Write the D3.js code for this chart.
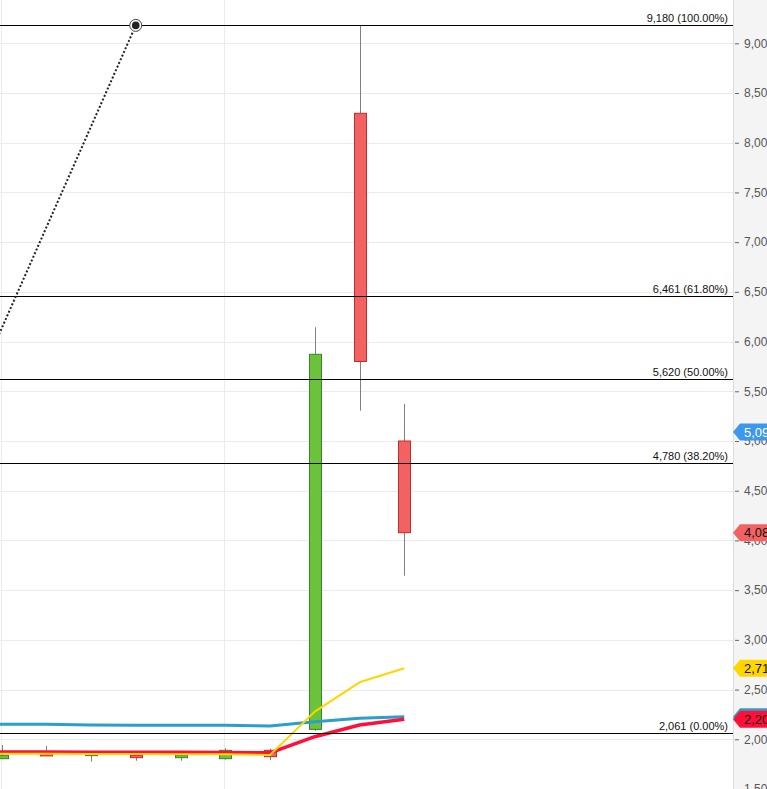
<!DOCTYPE html>
<html>
<head>
<meta charset="utf-8">
<script src="https://cdn.jsdelivr.net/npm/d3@7"></script>
<style>
  body { margin: 0; background: #fff; overflow: hidden; }
  svg { display: block; font-family: "Liberation Sans", Arial, sans-serif; }
</style>
</head>
<body>
<svg id="chart" width="767" height="789"></svg>
<script>
// candle data (index 0 = first candle on screen)
var candleIdx = [0, 1, 2, 3, 4, 5, 6, 7, 8, 9];
var opens  = [1.805, 1.853, 1.852, 1.839, 1.815, 1.805, 1.889, 2.100, 8.296, 5.000];
var highs  = [1.943, 1.933, 1.856, 1.839, 1.839, 1.910, 1.905, 6.144, 9.180, 5.372];
var lows   = [1.805, 1.850, 1.775, 1.784, 1.784, 1.795, 1.790, 2.084, 5.305, 3.645];
var closes = [1.839, 1.850, 1.856, 1.815, 1.839, 1.889, 1.825, 5.872, 5.800, 4.078];

// moving averages (start one bar left of the screen)
var maIdx    = [-1, 0, 1, 2, 3, 4, 5, 6, 7, 8, 9];
var maBlue   = [2.151, 2.151, 2.151, 2.144, 2.140, 2.140, 2.140, 2.134, 2.177, 2.211, 2.227];
var maRed    = [1.872, 1.872, 1.872, 1.870, 1.869, 1.869, 1.868, 1.864, 2.026, 2.144, 2.202];
var maYellow = [1.855, 1.855, 1.855, 1.853, 1.852, 1.850, 1.850, 1.842, 2.278, 2.573, 2.714];

// fibonacci retracement
var fibValues = [9.180, 6.461, 5.620, 4.780, 2.061];
var fibPcts   = ["100.00%", "61.80%", "50.00%", "38.20%", "0.00%"];
var fibTrendIdx = [-4, 3];
var fibTrendVal = [2.061, 9.180];

// extra price marker
var bidValue = 5.09;

var yTicks = d3.range(1.5, 9.01, 0.5);
var vGridIdx = [0, 5];

var W = 767, H = 789, axisX = 733;

var svg = d3.select("#chart");

var x = d3.scaleLinear().domain([0, 9]).range([1.5, 1.5 + 9 * 44.75]);
var y = d3.scaleLinear().domain([1.5, 9]).range([789, 43.3]);

var fmt3 = v => d3.format(".3f")(v).replace(".", ",");
var fmt2 = v => d3.format(".2f")(v).replace(".", ",");

svg.append("defs").append("clipPath").attr("id", "plotclip")
    .append("rect").attr("x", 0).attr("y", 0).attr("width", axisX).attr("height", H);

var plot = svg.append("g").attr("clip-path", "url(#plotclip)");

//网格
plot.append("g").selectAll("line")
    .data(yTicks)
    .join("line")
    .attr("x1", 0).attr("x2", axisX)
    .attr("y1", d => Math.round(y(d)) + 0.5)
    .attr("y2", d => Math.round(y(d)) + 0.5)
    .attr("stroke", "#ebebeb");

plot.append("g").selectAll("line")
    .data(vGridIdx)
    .join("line")
    .attr("x1", d => Math.round(x(d)) - 0.5)
    .attr("x2", d => Math.round(x(d)) - 0.5)
    .attr("y1", 0).attr("y2", H)
    .attr("stroke", "#ebebeb");

//蜡烛
var candles = candleIdx.map((d, i) => ({
    i: d, o: opens[i], h: highs[i], l: lows[i], c: closes[i]
}));

var cg = plot.append("g").selectAll("g")
    .data(candles)
    .join("g");

cg.append("line")
    .attr("x1", d => Math.round(x(d.i)) + 0.5)
    .attr("x2", d => Math.round(x(d.i)) + 0.5)
    .attr("y1", d => y(d.h))
    .attr("y2", d => y(d.l))
    .attr("stroke", "#808080")
    .attr("stroke-width", 1);

cg.append("rect")
    .attr("x", d => Math.round(x(d.i)) - 5.5)
    .attr("width", 12)
    .attr("y", d => y(Math.max(d.o, d.c)))
    .attr("height", d => Math.max(2, y(Math.min(d.o, d.c)) - y(Math.max(d.o, d.c))))
    .attr("fill", d => d.c >= d.o ? "#6cc23a" : "#f26262")
    .attr("stroke", d => d.c >= d.o ? "#2e8a2a" : "#c42b2b")
    .attr("stroke-width", 1);

//均线
var maLine = d3.line()
    .x(d => x(d[0]))
    .y(d => y(d[1]));

[[maBlue, "#2b9fc9", 3], [maRed, "#ff1039", 3.5], [maYellow, "#ffd600", 2]].forEach(m => {
    plot.append("path")
        .datum(maIdx.map((d, i) => [d, m[0][i]]))
        .attr("d", maLine)
        .attr("fill", "none")
        .attr("stroke", m[1])
        .attr("stroke-width", m[2])
        .attr("stroke-linejoin", "round");
});

//斐波那契
plot.append("g").selectAll("line")
    .data(fibValues)
    .join("line")
    .attr("x1", 0).attr("x2", axisX)
    .attr("y1", d => Math.round(y(d)) + 0.5)
    .attr("y2", d => Math.round(y(d)) + 0.5)
    .attr("stroke", "#000")
    .attr("stroke-width", 1.2);

plot.append("g").selectAll("text")
    .data(fibValues)
    .join("text")
    .attr("x", 728)
    .attr("y", d => Math.round(y(d)) - 3)
    .attr("text-anchor", "end")
    .style("font-size", "11px")
    .attr("fill", "#111")
    .text((d, i) => fmt3(d) + " (" + fibPcts[i] + ")");

plot.append("line")
    .attr("x1", x(fibTrendIdx[0])).attr("y1", y(fibTrendVal[0]))
    .attr("x2", x(fibTrendIdx[1])).attr("y2", y(fibTrendVal[1]))
    .attr("stroke", "#222")
    .attr("stroke-width", 2)
    .attr("stroke-dasharray", "2,2");

plot.append("circle")
    .attr("cx", x(fibTrendIdx[1])).attr("cy", y(fibTrendVal[1]))
    .attr("r", 6)
    .attr("fill", "#fff")
    .attr("stroke", "#444")
    .attr("stroke-width", 1);
plot.append("circle")
    .attr("cx", x(fibTrendIdx[1])).attr("cy", y(fibTrendVal[1]))
    .attr("r", 3.8)
    .attr("fill", "#222");

//右侧坐标轴
svg.append("rect")
    .attr("x", axisX).attr("y", 0)
    .attr("width", W - axisX).attr("height", H)
    .attr("fill", "#f4f4f4");
svg.append("line")
    .attr("x1", axisX + 0.5).attr("x2", axisX + 0.5)
    .attr("y1", 0).attr("y2", H)
    .attr("stroke", "#dcdcdc");

var yAxis = d3.axisRight(y)
    .tickValues(yTicks)
    .tickSize(4)
    .tickPadding(5)
    .tickFormat(fmt3);

var axisG = svg.append("g")
    .attr("transform", "translate(" + (axisX + 2) + ",0)")
    .call(yAxis);
axisG.select(".domain").remove();
axisG.selectAll(".tick line").attr("stroke", "#666");
axisG.selectAll(".tick text")
    .attr("fill", "#555")
    .style("font-size", "12px")
    .style("font-family", "'Liberation Sans', Arial, sans-serif");

//价格标签
var tags = [
    {v: bidValue, fill: "#3d97ee", txt: "#fff"},
    {v: closes[closes.length - 1], fill: "#f26262", txt: "#111"},
    {v: maBlue[maBlue.length - 1], fill: "#2b9fc9", txt: "#111"},
    {v: maYellow[maYellow.length - 1], fill: "#ffd600", txt: "#111"},
    {v: maRed[maRed.length - 1], fill: "#ff1039", txt: "#111"}
];

var tg = svg.append("g").selectAll("g")
    .data(tags)
    .join("g")
    .attr("transform", d => "translate(0," + y(d.v) + ")");

tg.append("path")
    .attr("d", "M" + axisX + ",0L" + (axisX + 7) + ",-8.5L" + W + ",-8.5L" + W + ",8.5L" + (axisX + 7) + ",8.5Z")
    .attr("fill", d => d.fill);

tg.append("text")
    .attr("x", 744)
    .attr("y", 4.5)
    .style("font-size", "13px")
    .attr("fill", d => d.txt)
    .text(d => fmt2(d.v));
</script>
</body>
</html>
